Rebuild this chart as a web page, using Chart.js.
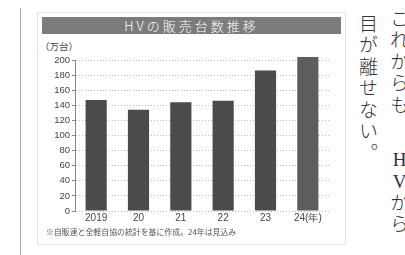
<!DOCTYPE html>
<html>
<head>
<meta charset="utf-8">
<script src="https://cdn.jsdelivr.net/npm/chart.js@4/dist/chart.umd.min.js"></script>
<style>
  body { margin: 0; width: 405px; height: 255px; background: #fff; position: relative; overflow: hidden;
         font-family: "Noto Sans CJK JP", "Liberation Sans", sans-serif; }
  .rule { position: absolute; left: 20px; top: 8px; width: 1px; height: 247px; background: #a8a8a8; }
  .box { position: absolute; left: 37px; top: 12px; width: 307px; height: 231px; border: 1px solid #e2e2e2; }
  .titlebar { position: absolute; left: 42px; top: 17px; width: 299px; height: 17px; background: #7c7c7c;
              color: #fff; font-size: 13px; line-height: 17px; text-align: center; letter-spacing: 3px;
              font-weight: 300; }
  .unit { position: absolute; left: 40px; top: 39px; font-size: 9.5px; color: #444; }
  .note { position: absolute; left: 46px; top: 226px; font-size: 7.9px; color: #555; white-space: nowrap; }
  .vert { position: absolute; writing-mode: vertical-rl; font-size: 19px; line-height: 22px; color: #333;
          letter-spacing: 2.5px; font-weight: 300; white-space: nowrap; }
  .vert .up { text-orientation: upright; font-family: "Liberation Serif", serif; font-size: 19px; letter-spacing: 1px; }
  #wrap { position: absolute; left: 40px; top: 36px; width: 300px; height: 200px; }
</style>
</head>
<body>
<div class="rule"></div>
<div class="box"></div>
<div class="titlebar">HVの販売台数推移</div>
<div class="unit">（万台）</div>
<div id="wrap"><canvas id="c" width="300" height="200"></canvas></div>
<div class="note">※自販連と全軽自協の統計を基に作成。24年は見込み</div>
<div class="vert" style="left:388px; top:9px;">これからも</div>
<div class="vert" style="left:388px; top:149px;"><span class="up">HV</span>から</div>
<div class="vert" style="left:357px; top:14px;">目が離せない。</div>

<script>
// data
const years = ['2019', '20', '21', '22', '23', '24(年)'];
const sales = [147, 134, 144, 146, 186, 204];   // 万台
const yTicks = [0, 20, 40, 60, 80, 100, 120, 140, 160, 180, 200];

const barColors = sales.map((v, i) => i === sales.length - 1 ? '#5d5d5d' : '#4b4b4b');

new Chart(document.getElementById('c'), {
  type: 'bar',
  data: {
    labels: years,
    datasets: [{
      data: sales,
      backgroundColor: barColors,
      borderWidth: 0,
      barPercentage: 0.5,
      categoryPercentage: 1.0,
      clip: false
    }]
  },
  options: {
    responsive: false,
    animation: false,
    events: [],
    layout: { padding: { top: 24, right: 11, left: 0, bottom: 0 } },
    plugins: { legend: { display: false }, tooltip: { enabled: false } },
    scales: {
      x: {
        grid: { display: false, drawTicks: false },
        border: { display: false },
        ticks: { color: '#444', font: { family: 'Liberation Sans', size: 10 }, padding: 1, maxRotation: 0 },
        afterFit: s => { s.height = 25; }
      },
      y: {
        min: 0,
        max: 200,
        afterBuildTicks: s => { s.ticks = yTicks.map(v => ({ value: v })); },
        grid: { color: '#bdbdbd', lineWidth: 1, tickLength: 3, tickColor: '#888', tickBorderDash: [] },
        border: { display: true, color: '#8a8a8a', dash: [1, 2] },
        ticks: { color: '#444', font: { family: 'Liberation Sans', size: 9.5 }, padding: 2 },
        afterFit: s => { s.width = 35; }
      }
    }
  }
});
</script>
</body>
</html>
